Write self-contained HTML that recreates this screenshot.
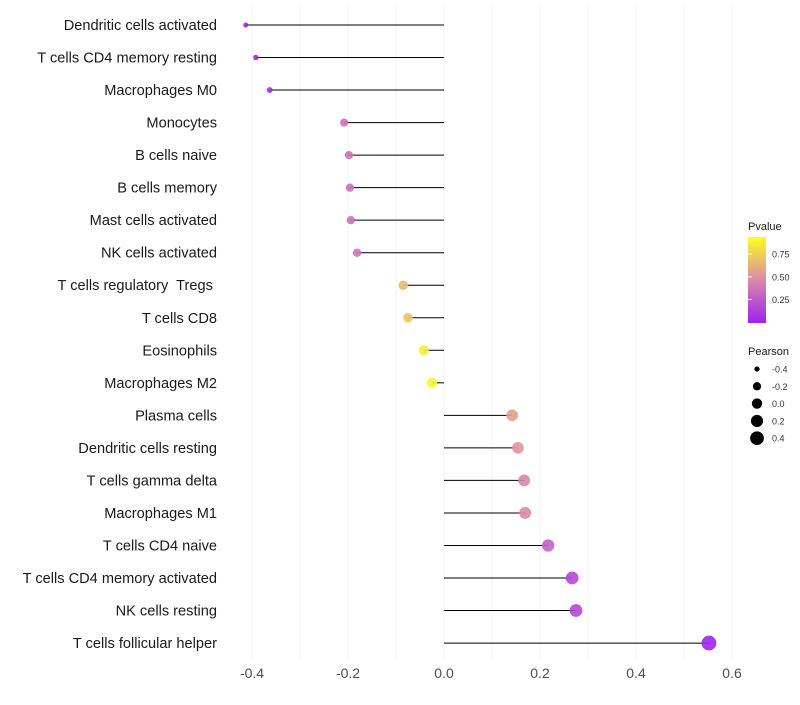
<!DOCTYPE html>
<html><head><meta charset="utf-8"><style>
body{margin:0;background:#fff;font-family:"Liberation Sans",sans-serif}
text{white-space:pre}
</style></head><body>
<svg id="chart" width="800" height="700" xmlns="http://www.w3.org/2000/svg">
<defs><linearGradient id="pg" x1="0" y1="1" x2="0" y2="0">
<stop offset="0" stop-color="#a020f0"/><stop offset="0.5" stop-color="#d98aa8"/><stop offset="1" stop-color="#ffff20"/></linearGradient></defs>
<g id="grid"></g><g id="marks"></g><g id="labels"></g><g id="legend"></g>
</svg>
<script>
const categories=["Dendritic cells activated","T cells CD4 memory resting","Macrophages M0","Monocytes","B cells naive","B cells memory","Mast cells activated","NK cells activated","T cells regulatory  Tregs ","T cells CD8","Eosinophils","Macrophages M2","Plasma cells","Dendritic cells resting","T cells gamma delta","Macrophages M1","T cells CD4 naive","T cells CD4 memory activated","NK cells resting","T cells follicular helper"];
const pearson=[-0.413,-0.392,-0.363,-0.208,-0.198,-0.196,-0.194,-0.181,-0.085,-0.075,-0.042,-0.025,0.142,0.154,0.167,0.169,0.217,0.267,0.275,0.552];
const pvalue=[0.01,0.02,0.05,0.38,0.38,0.38,0.38,0.40,0.70,0.75,0.92,0.96,0.60,0.55,0.48,0.50,0.30,0.18,0.18,0.01];
const xTicks=[-0.4,-0.2,0.0,0.2,0.4,0.6];
const pTicks=[0.25,0.50,0.75];
const sizeTicks=[-0.4,-0.2,0.0,0.2,0.4];
const NS="http://www.w3.org/2000/svg";
const X=v=>444+v*480;
const Y=i=>25+i*32.53;
const R=v=>Math.sqrt(Math.max(1,27+50*v));
function col(p){const s=[[0,[160,32,240]],[0.5,[217,138,168]],[1,[255,255,32]]];let a=p<=0.5?s[0]:s[1],b=p<=0.5?s[1]:s[2];let t=(p-a[0])/(b[0]-a[0]);return "rgb("+a[1].map((c,k)=>Math.round(c+(b[1][k]-c)*t)).join(",")+")";}
function el(t,at,parent){const e=document.createElementNS(NS,t);for(const k in at)e.setAttribute(k,at[k]);document.getElementById(parent).appendChild(e);return e;}
for(let v=-0.4;v<=0.61;v+=0.1){const g=el("line",{x1:X(v),x2:X(v),y1:6,y2:660,stroke:"#f2f2f2","stroke-width":1},"grid");

}
xTicks.forEach(v=>{const t=el("text",{x:X(v),y:678,"text-anchor":"middle","font-size":14,fill:"#4d4d4d"},"labels");t.textContent=v.toFixed(1);

});
categories.forEach((c,i)=>{
const t=el("text",{x:217,y:Y(i)+5,"text-anchor":"end","font-size":14.6,fill:"#1a1a1a"},"labels");t.textContent=c;


const l=el("line",{x1:X(0),x2:X(pearson[i]),y1:Y(i),y2:Y(i),stroke:"#000","stroke-width":1},"marks");


const p=el("circle",{cx:X(pearson[i]),cy:Y(i),r:R(pearson[i]),fill:col(pvalue[i]),"fill-opacity":0.9},"marks");


});
let t=el("text",{x:748,y:230,"font-size":11,fill:"#1a1a1a"},"legend");t.textContent="Pvalue";


const bar=el("rect",{x:748,y:237,width:18,height:86,fill:"url(#pg)"},"legend");


pTicks.forEach(p=>{const y=322-p/0.94*85;const tx=el("text",{x:772,y:y+3.5,"font-size":9,fill:"#333"},"legend");tx.textContent=p.toFixed(2);


const tk=el("line",{x1:748,x2:752,y1:y,y2:y,stroke:"#fff"},"legend");

});
t=el("text",{x:748,y:355,"font-size":11,fill:"#1a1a1a"},"legend");t.textContent="Pearson";


sizeTicks.forEach((v,k)=>{const y=369+k*17.3;const c=el("circle",{cx:757,cy:y,r:R(v),fill:"#000"},"legend");


const tx=el("text",{x:772,y:y+3.5,"font-size":9,fill:"#333"},"legend");tx.textContent=v.toFixed(1);

});
</script>
</body></html>
